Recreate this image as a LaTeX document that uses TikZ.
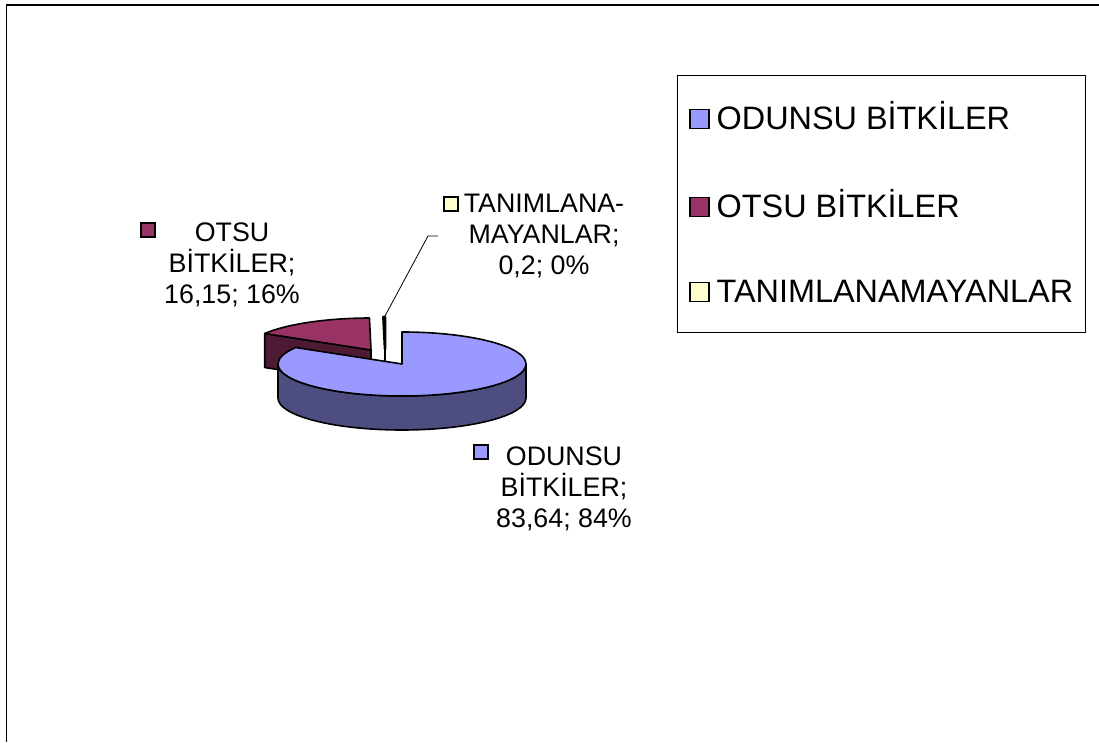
\documentclass[tikz,border=0pt]{standalone}
\usepackage{fontspec}
\setmainfont{Liberation Sans}
\usetikzlibrary{positioning}
\definecolor{odunsutop}{RGB}{153,153,255}
\definecolor{odunsuside}{RGB}{77,77,128}
\definecolor{otsutop}{RGB}{153,51,102}
\definecolor{otsuside}{RGB}{77,26,51}
\definecolor{tanimfill}{RGB}{255,255,204}

\begin{document}
\begin{tikzpicture}[
  x=1pt, y=1pt,
  slice/.style={draw=black, line width=1.6pt, line join=round},
  key/.style={rectangle, draw=black, line width=1.6pt, minimum size=14pt, inner sep=0pt},
  legkey/.style={key, minimum size=19pt, line width=1.8pt},
  lbl/.style={align=center, inner sep=0pt, anchor=base, font=\fontsize{26.8}{31}\selectfont},
  legtext/.style={anchor=base west, inner sep=0pt, font=\fontsize{32.4}{38}\selectfont},
  leader/.style={draw=black, line width=0.8pt}
]
  \useasboundingbox (0,0) rectangle (1099,742);
  % chart frame (only top and left edges show)
  \draw[line width=1.6pt] (6.5,0) -- (6.5,737) -- (1099,737);

  % pie centres: sliver and exploded slice behind, main slice in front
  \coordinate (cTan) at (385,393);
  \coordinate (cOts) at (371,392);
  \coordinate (cOdu) at (402,378);

  % TANIMLANAMAYANLAR sliver
  \draw[slice, line width=2.6pt, fill=tanimfill] (cTan) -- ++(0,32) -- ++(-1.6,0) -- cycle;
  \draw[slice, line width=2.6pt] (cTan) -- ++(0,-30);

  % OTSU BITKILER slice
  \draw[slice, fill=otsuside] (cOts) -- ++(0,-34) -- ++(149:124 and 32) -- ++(0,34) -- cycle;
  \draw[slice, fill=otsutop] (cOts) -- ++(90.72:124 and 32)
    arc[start angle=90.72, end angle=149, x radius=124, y radius=32] -- cycle;

  % ODUNSU BITKILER slice
  \draw[slice, fill=odunsuside] (cOdu) ++(180:124 and 32)
    arc[start angle=180, end angle=360, x radius=124, y radius=32] -- ++(0,-34)
    arc[start angle=360, end angle=180, x radius=124, y radius=32] -- cycle;
  \draw[slice, fill=odunsutop] (cOdu) -- ++(0,32)
    arc[start angle=90, end angle=-211, x radius=124, y radius=32] -- cycle;

  % data labels (node base = last line)
  \node[lbl] (otsuLbl) at (232,438) {OTSU\\BİTKİLER;\\16,15; 16\%};
  \node[key, fill=otsutop] (otsuKey) at (148,512) {};
  \node[lbl] (tanLbl) at (544,467) {TANIMLANA-\\MAYANLAR;\\0,2; 0\%};
  \node[key, fill=tanimfill] (tanKey) at (451,538) {};
  \node[lbl] (oduLbl) at (564,215) {ODUNSU\\BİTKİLER;\\83,64; 84\%};
  \node[key, fill=odunsutop] (oduKey) at (481,290) {};

  % leader to the sliver
  \coordinate (tanLead) at (438,506);
  \coordinate (tanTip) at (385,426);
  \draw[leader] (tanLead) -- ++(-10,0) -- (tanTip);

  % legend
  \node[draw=black, line width=1.2pt, anchor=north west, minimum width=408pt,
        minimum height=257pt, inner sep=0pt] (legend) at (677,667) {};
  \node[legkey, fill=odunsutop] (legOduKey) at (699.5,623) {};
  \node[legtext] (legOdu) at (716.5,612) {ODUNSU BİTKİLER};
  \node[legkey, fill=otsutop] (legOtsKey) at (699.5,535) {};
  \node[legtext] (legOts) at (716.5,524) {OTSU BİTKİLER};
  \node[legkey, fill=tanimfill] (legTanKey) at (699.5,450) {};
  \node[legtext] (legTan) at (716.5,439) {TANIMLANAMAYANLAR};
\end{tikzpicture}
\end{document}
